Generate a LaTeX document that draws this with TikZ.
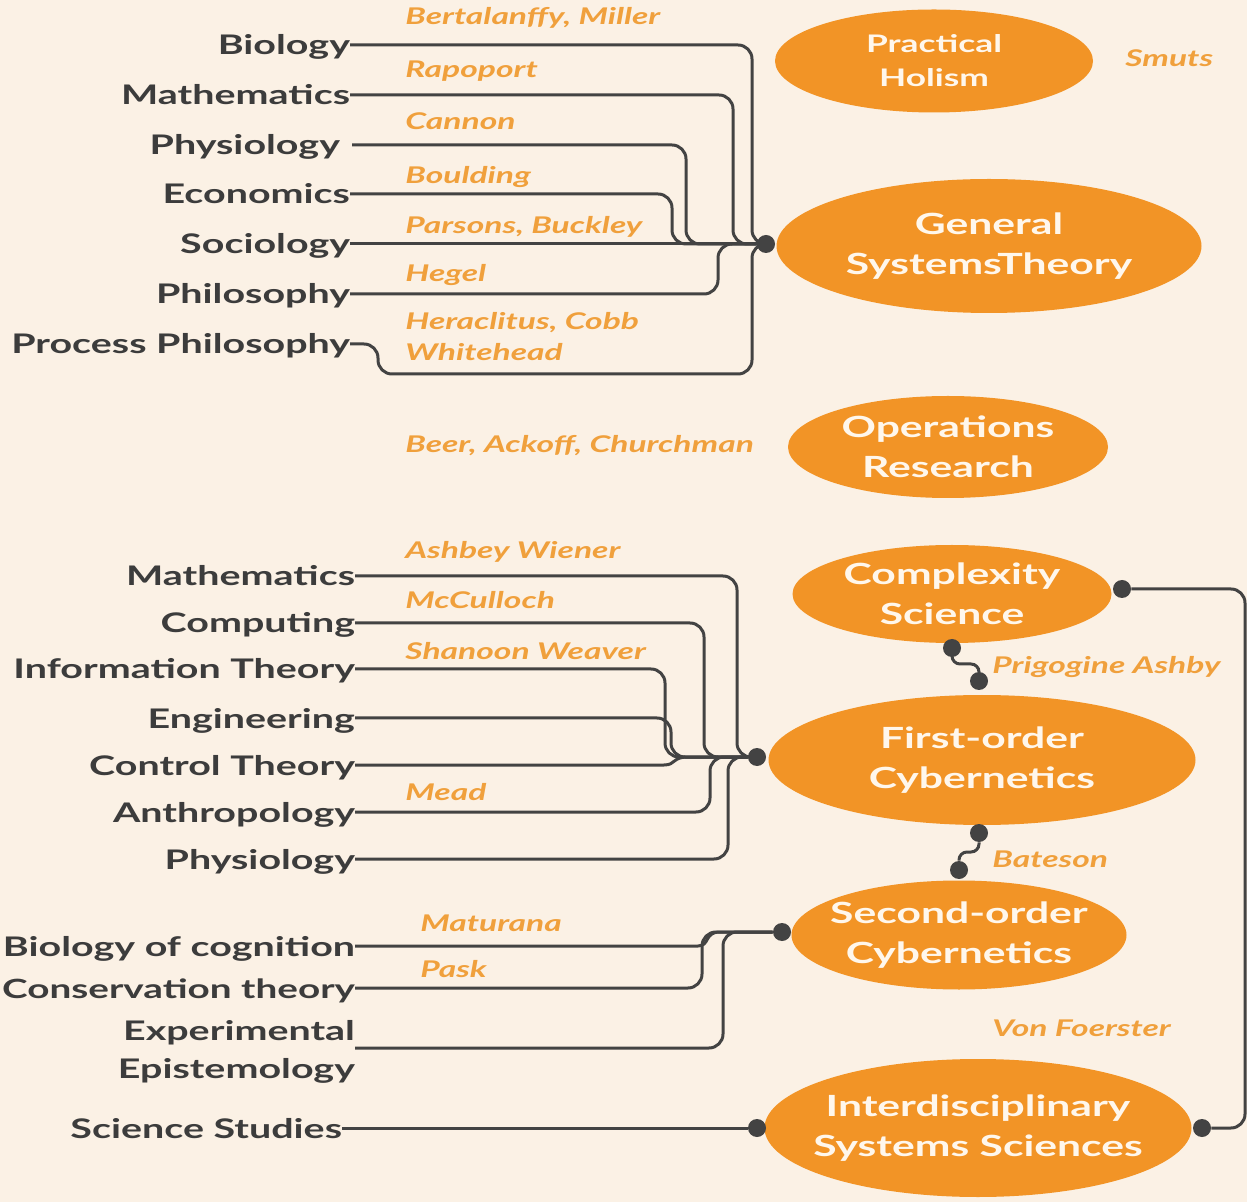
\documentclass[tikz,border=0pt]{standalone}
\usepackage{fontspec}
\setmainfont{Lato}[FakeStretch=1.46]
\usetikzlibrary{shapes.geometric}
\definecolor{bgc}{HTML}{FBF1E5}
\definecolor{ellc}{HTML}{F29426}
\definecolor{namec}{HTML}{F0A03C}
\definecolor{txtc}{HTML}{3C3C3C}
\definecolor{linec}{HTML}{434343}
\definecolor{elltxt}{HTML}{FFF7EC}
\begin{document}
\begin{tikzpicture}[x=0.5pt,y=-0.5pt,
  lbl/.style={font=\bfseries\fontsize{13.5}{19}\selectfont, text=txtc, anchor=east, inner sep=0pt, outer sep=0pt, text height=10.5pt, text depth=0.5pt},
  lbl2/.style={font=\bfseries\fontsize{13.5}{19}\selectfont, text=txtc, anchor=east, inner sep=0pt, outer sep=0pt, align=right},
  nm/.style={font=\bfseries\itshape\fontsize{11.5}{15.5}\selectfont, text=namec, anchor=west, inner sep=0pt, align=left},
  ell/.style={ellipse, fill=ellc, text=elltxt, font=\bfseries\fontsize{14.6}{20}\selectfont, align=center, inner xsep=-20pt, inner ysep=-4pt},
  dot/.style={circle, fill=linec, minimum size=9pt, inner sep=0pt},
  conn/.style={draw=linec, line width=1.5pt, rounded corners=7pt}]
\fill[bgc] (0,0) rectangle (1247,1202);
\useasboundingbox (0,0) rectangle (1247,1202);

% ellipses
\node[ell, minimum width=159pt, minimum height=51.5pt, font=\bfseries\fontsize{12.1}{17}\selectfont] (ph) at (934,61) {Practical\\Holism};
\node[ell, minimum width=212.5pt, minimum height=67pt] (gst) at (989,246) {General\\SystemsTheory};
\node[ell, minimum width=160pt, minimum height=51pt] (or) at (948,447) {Operations\\Research};
\node[ell, minimum width=159.5pt, minimum height=49pt] (cs) at (952,594) {Complexity\\Science};
\node[ell, minimum width=213.5pt, minimum height=65pt] (foc) at (982,760) {First-order\\Cybernetics};
\node[ell, minimum width=167.5pt, minimum height=54.5pt] (soc) at (959,935) {Second-order\\Cybernetics};
\node[ell, minimum width=213.5pt, minimum height=69pt] (iss) at (978,1128) {Interdisciplinary\\Systems Sciences};

% dots
\node[dot] (d1) at (766,244) {};
\node[dot] (d2) at (757,757) {};
\node[dot] (d3) at (782,932) {};
\node[dot] (d4) at (757,1128) {};
\node[dot] (dc1) at (1122,589) {};
\node[dot] (dc2) at (1202,1128) {};
\node[dot] (dcs) at (952,648) {};
\node[dot] (dfa) at (979,681) {};
\node[dot] (dfb) at (979,833) {};
\node[dot] (dso) at (959,870) {};

% left labels, group 1
\node[lbl] (bio1) at (350,45) {Biology};
\node[lbl] (mat1) at (350,95) {Mathematics};
\node[lbl] (phy1) at (340,145) {Physiology};
\node[lbl] (eco) at (350,194) {Economics};
\node[lbl] (soc1) at (350,244) {Sociology};
\node[lbl] (phi) at (350,294) {Philosophy};
\node[lbl] (pp) at (350,344) {Process Philosophy};

% group 2
\node[lbl] (mat2) at (355,576) {Mathematics};
\node[lbl] (comp) at (355,623) {Computing};
\node[lbl] (info) at (355,669) {Information Theory};
\node[lbl] (eng) at (355,718) {Engineering};
\node[lbl] (ctrl) at (355,765) {Control Theory};
\node[lbl] (anth) at (355,812) {Anthropology};
\node[lbl] (phy2) at (355,859) {Physiology};

% group 3
\node[lbl] (boc) at (355,946) {Biology of cognition};
\node[lbl, font=\bfseries\fontsize{13.25}{19}\selectfont] (cons) at (355,988) {Conservation theory};
\node[lbl2] (expe) at (355,1052) {Experimental\\Epistemology};
\node[lbl] (sst) at (342,1128) {Science Studies};

% names
\node[nm] (n1) at (405,18) {Bertalanffy, Miller};
\node[nm] (n2) at (405,71) {Rapoport};
\node[nm] (n3) at (405,121) {Cannon};
\node[nm] (n4) at (405,177) {Boulding};
\node[nm] (n5) at (405,227) {Parsons, Buckley};
\node[nm] (n6) at (405,275) {Hegel};
\node[nm] (n7) at (405,337) {Heraclitus, Cobb\\Whitehead};
\node[nm] (n8) at (405,446) {Beer, Ackoff, Churchman};
\node[nm] (n9) at (1125,58) {Smuts};
\node[nm] (n10) at (405,552) {Ashbey Wiener};
\node[nm] (n11) at (405,600) {McCulloch};
\node[nm] (n12) at (405,651) {Shanoon Weaver};
\node[nm] (n13) at (405,792) {Mead};
\node[nm] (n14) at (992,667) {Prigogine Ashby};
\node[nm] (n15) at (992,859) {Bateson};
\node[nm] (n16) at (420,923) {Maturana};
\node[nm] (n17) at (420,969) {Pask};
\node[nm] (n18) at (992,1028) {Von Foerster};

% connectors group 1
\draw[conn] (bio1.east) -| (752,244) -- (d1);
\draw[conn] (mat1.east) -| (733,244) -- (d1);
\draw[conn] ([xshift=6pt]phy1.east) -| (686,244) -- (d1);
\draw[conn] (eco.east) -| (672,244) -- (d1);
\draw[conn] (soc1.east) -- (d1);
\draw[conn] (phi.east) -| (718,244) -- (d1);
\draw[conn] (pp.east) -| (378,374) -| (752,244) -- (d1);

% connectors group 2
\draw[conn] (mat2.east) -| (737,757) -- (d2);
\draw[conn] (comp.east) -| (704,757) -- (d2);
\draw[conn] (info.east) -| (665,757) -- (d2);
\draw[conn] (eng.east) -| (671,757) -- (d2);
\draw[conn, rounded corners=0pt] (ctrl.east) -- (664,765) .. controls (676,765) and (672,757) .. (688,757) -- (d2);
\draw[conn] (anth.east) -| (710,757) -- (d2);
\draw[conn] (phy2.east) -| (728,757) -- (d2);

% connectors group 3
\draw[conn, rounded corners=0pt] (boc.east) -- (698,946) .. controls (710,946) and (704,932) .. (720,932) -- (d3);
\draw[conn] (cons.east) -| (702,932) -- (d3);
\draw[conn] ([yshift=2pt]expe.east) -| (723,932) -- (d3);
\draw[conn] (sst.east) -- (d4);

% right side
\draw[conn] (dc1) -| (1245,1128) -- (dc2);
\draw[conn, rounded corners=4pt] (dcs) |- (979,664) -- (dfa);
\draw[conn, rounded corners=4pt] (dfb) |- (959,852) -- (dso);
\end{tikzpicture}
\end{document}
